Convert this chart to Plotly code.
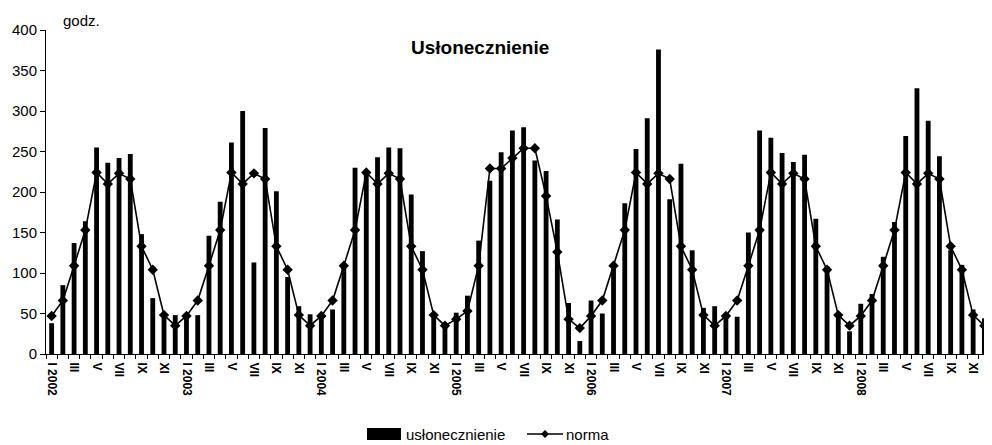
import plotly.graph_objects as go

years = [2002, 2003, 2004, 2005, 2006, 2007, 2008]
roman = ["I", "II", "III", "IV", "V", "VI", "VII", "VIII", "IX", "X", "XI", "XII"]

sun2002 = [38, 85, 137, 164, 255, 236, 242, 247, 148, 69, 50, 48]
sun2003 = [47, 48, 146, 188, 261, 300, 113, 279, 201, 95, 59, 49]
sun2004 = [48, 55, 110, 230, 226, 243, 255, 254, 197, 127, 45, 38]
sun2005 = [51, 72, 140, 214, 249, 276, 280, 239, 226, 166, 63, 16]
sun2006 = [66, 50, 106, 186, 253, 291, 376, 191, 235, 128, 57, 59]
sun2007 = [47, 46, 150, 276, 267, 248, 237, 246, 167, 108, 50, 28]
sun2008 = [62, 74, 120, 163, 269, 328, 288, 244, 128, 110, 55, 44]

norma_std = [47, 66, 109, 153, 224, 210, 223, 216, 133, 104, 48, 35]
norma_2005 = [43, 53, 109, 229, 229, 242, 254, 254, 195, 126, 43, 32]

sunshine = sun2002 + sun2003 + sun2004 + sun2005 + sun2006 + sun2007 + sun2008
norma = norma_std * 3 + norma_2005 + norma_std * 3

n = len(sunshine)
xs = list(range(n))
tickvals = []
ticktext = []
for i in range(0, n, 2):
    m = i % 12
    tickvals.append(i)
    ticktext.append(f"I {years[i // 12]}" if m == 0 else roman[m])

FONT = "Arial, Liberation Sans, sans-serif"

fig = go.Figure()
fig.add_trace(go.Bar(x=xs, y=sunshine, marker=dict(color="black", line=dict(width=0)),
                     name="usłonecznienie", showlegend=False))
fig.add_trace(go.Scatter(x=xs, y=norma, mode="lines+markers", name="norma",
                         line=dict(color="black", width=1.6),
                         marker=dict(symbol="diamond", size=8, color="black"),
                         showlegend=False))

# page body has an 8px margin; compensate so the plot area sits at page px 46..990 x 30..354
OFF = 8
W, H = 992 - OFF, 445 - OFF
L, R, T, B = 46 - OFF, 2, 30 - OFF, 91
pw = W - L - R
ph = H - T - B
PLOT_LEFT = 46
PLOT_BOTTOM = 354

def px(x):
    return (x - PLOT_LEFT) / pw

def py(y):
    return (PLOT_BOTTOM - y) / ph

shapes = []
shapes.append(dict(type="rect", xref="paper", yref="paper",
                   x0=px(367), x1=px(401), y0=py(440), y1=py(428),
                   fillcolor="black", line=dict(width=0)))
shapes.append(dict(type="line", xref="paper", yref="paper",
                   x0=px(527), x1=px(563), y0=py(434), y1=py(434),
                   line=dict(color="black", width=1.6)))
cx, cy, d = 545, 434, 4
shapes.append(dict(type="path", xref="paper", yref="paper",
                   path=f"M {px(cx-d)} {py(cy)} L {px(cx)} {py(cy-d)} L {px(cx+d)} {py(cy)} L {px(cx)} {py(cy+d)} Z",
                   fillcolor="black", line=dict(color="black", width=0)))

annotations = [
    dict(text="<b>Usłonecznienie</b>", xref="paper", yref="paper", x=px(480), y=py(47),
         xanchor="center", yanchor="middle", showarrow=False,
         font=dict(family=FONT, size=19, color="black")),
    dict(text="godz.", xref="paper", yref="paper", x=px(61), y=py(20),
         xanchor="left", yanchor="middle", showarrow=False,
         font=dict(family=FONT, size=15, color="black")),
    dict(text="usłonecznienie", xref="paper", yref="paper", x=px(404), y=py(434),
         xanchor="left", yanchor="middle", showarrow=False,
         font=dict(family=FONT, size=15, color="black")),
    dict(text="norma", xref="paper", yref="paper", x=px(564), y=py(434),
         xanchor="left", yanchor="middle", showarrow=False,
         font=dict(family=FONT, size=15, color="black")),
]

fig.update_layout(
    width=W, height=H, autosize=False,
    margin=dict(l=L, r=R, t=T, b=B),
    paper_bgcolor="white", plot_bgcolor="white",
    bargap=0.57,
    showlegend=False,
    font=dict(family=FONT, color="black"),
    shapes=shapes,
    annotations=annotations,
)
fig.update_xaxes(
    range=[-0.5, n - 0.5],
    tickmode="array", tickvals=tickvals, ticktext=ticktext,
    tickangle=90,
    ticks="outside", ticklen=5, tickcolor="rgba(0,0,0,0)",
    tickfont=dict(family=FONT, size=12, color="black", weight="bold"),
    showline=True, linecolor="black", linewidth=1,
    showgrid=False, zeroline=False,
    minor=dict(tick0=-0.5, dtick=1, ticks="outside", ticklen=4, tickcolor="black", tickwidth=1),
)
fig.update_yaxes(
    range=[0, 400], tick0=0, dtick=50,
    ticks="outside", ticklen=5, tickcolor="black",
    tickfont=dict(family=FONT, size=15, color="black"),
    showline=True, linecolor="black", linewidth=1,
    showgrid=False, zeroline=False,
)

fig.write_html("out.html", config={"displayModeBar": False})
